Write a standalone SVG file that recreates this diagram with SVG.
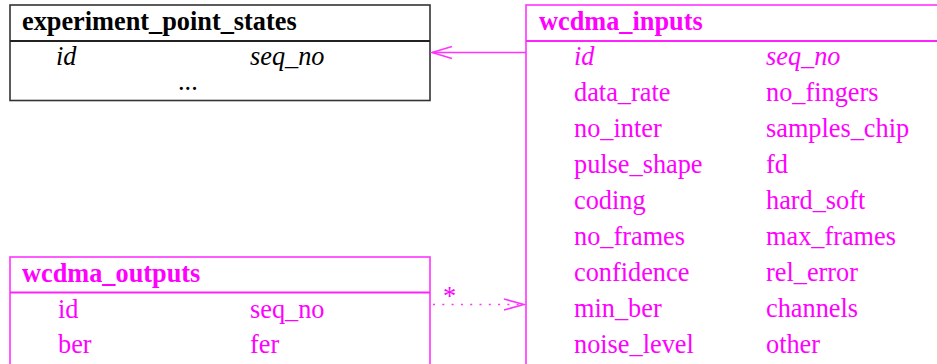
<svg xmlns="http://www.w3.org/2000/svg" width="937" height="364" viewBox="0 0 937 364">
  <style>
    text { font-family: "Liberation Serif", "Times New Roman", serif; font-size: 26.3px; }
    .title { font-weight: bold; }
    .it { font-style: italic; }
    .dark { fill: #000; }
    .mag { fill: #ff00ff; }
    .box-dark { fill: #fff; stroke: #333; stroke-width: 1.6; }
    .line-dark { stroke: #222; stroke-width: 1.8; }
    .box-mag { fill: #fff; stroke: #ff33ff; stroke-width: 1.6; }
    .line-mag { stroke: #ff22ff; stroke-width: 1.8; }
    .conn { fill: none; stroke: #ff33ff; stroke-width: 1.5; }
    .dotted { stroke-dasharray: 2 7.3; }
  </style>

  <!-- experiment_point_states table -->
  <g id="experiment_point_states">
    <rect class="box-dark" x="10" y="5" width="420" height="95.5"/>
    <line class="line-dark" x1="10" y1="41" x2="430" y2="41"/>
    <text class="title dark" x="22" y="29.5">experiment_point_states</text>
    <text class="it dark" x="56" y="64.5">id</text>
    <text class="it dark" x="250" y="64.5">seq_no</text>
    <text class="dark" x="178" y="89.5">...</text>
  </g>

  <!-- wcdma_inputs table (runs past the right and bottom edges) -->
  <g id="wcdma_inputs">
    <rect class="box-mag" x="526" y="5" width="430" height="380"/>
    <line class="line-mag" x1="526" y1="41" x2="940" y2="41"/>
    <text class="title mag" x="539" y="29.5">wcdma_inputs</text>
    <text class="it mag" x="574" y="64.5">id</text>
    <text class="it mag" x="766" y="64.5">seq_no</text>
    <text class="mag" x="574" y="100.5">data_rate</text>
    <text class="mag" x="766" y="100.5">no_fingers</text>
    <text class="mag" x="574" y="136.5">no_inter</text>
    <text class="mag" x="766" y="136.5">samples_chip</text>
    <text class="mag" x="574" y="172.5">pulse_shape</text>
    <text class="mag" x="766" y="172.5">fd</text>
    <text class="mag" x="574" y="208.5">coding</text>
    <text class="mag" x="766" y="208.5">hard_soft</text>
    <text class="mag" x="574" y="244.5">no_frames</text>
    <text class="mag" x="766" y="244.5">max_frames</text>
    <text class="mag" x="574" y="280.5">confidence</text>
    <text class="mag" x="766" y="280.5">rel_error</text>
    <text class="mag" x="574" y="316.5">min_ber</text>
    <text class="mag" x="766" y="316.5">channels</text>
    <text class="mag" x="574" y="352.5">noise_level</text>
    <text class="mag" x="766" y="352.5">other</text>
  </g>

  <!-- wcdma_outputs table (runs past the bottom edge) -->
  <g id="wcdma_outputs">
    <rect class="box-mag" x="10" y="257" width="420" height="130"/>
    <line class="line-mag" x1="10" y1="292.5" x2="430" y2="292.5"/>
    <text class="title mag" x="22" y="281.5">wcdma_outputs</text>
    <text class="mag" x="58" y="317.5">id</text>
    <text class="mag" x="250" y="317.5">seq_no</text>
    <text class="mag" x="58" y="352.5">ber</text>
    <text class="mag" x="250" y="352.5">fer</text>
  </g>

  <!-- connectors -->
  <g id="connectors">
    <!-- wcdma_inputs to experiment_point_states -->
    <line class="conn" x1="526" y1="52.5" x2="432" y2="52.5"/>
    <polyline class="conn" points="452,46.5 432,52.5 452,58.5"/>
    <!-- wcdma_outputs to wcdma_inputs, many -->
    <line class="conn dotted" x1="433" y1="304.5" x2="524" y2="304.5"/>
    <polyline class="conn" points="504,299 524,304.5 504,310"/>
    <text class="mag" x="443" y="304.5">*</text>
  </g>
</svg>
